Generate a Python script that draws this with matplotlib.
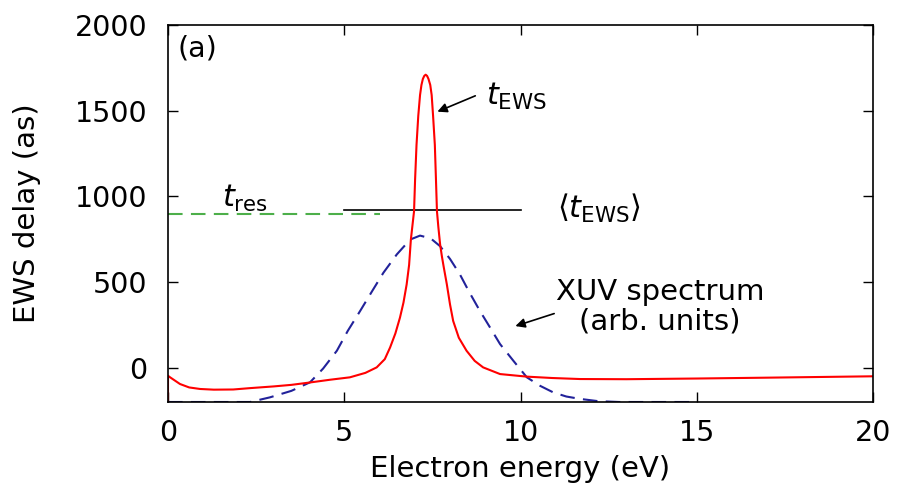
import matplotlib
matplotlib.use("Agg")
import matplotlib.pyplot as plt

plt.rcParams['font.family'] = ['DejaVu Sans']
plt.rcParams['mathtext.fontset'] = 'dejavusans'

# EWS delay t_EWS (red)
ews_x = [0.0, 0.0, 0.06, 0.34, 0.6, 0.91, 1.3, 1.85, 2.33, 3.0, 3.5, 4.03, 4.6, 5.16, 5.6,
         5.92, 6.15, 6.30, 6.45, 6.58, 6.68, 6.77, 6.84, 6.89, 6.94, 6.98, 7.01, 7.05, 7.1,
         7.15, 7.19, 7.23, 7.27, 7.31, 7.35, 7.39, 7.44, 7.48, 7.52, 7.57, 7.6, 7.63, 7.67,
         7.72, 7.77, 7.82, 7.91, 8.0, 8.09, 8.25, 8.47, 8.7, 8.94, 9.42, 10.18, 10.9,
         11.69, 13.0, 15.0, 17.0, 20.0]
ews_y = [-250, -47, -56, -95, -115, -124, -128, -127, -119, -109, -100, -86, -70, -56, -30,
         2, 50, 118, 200, 292, 380, 486, 600, 748, 840, 913, 1100, 1300, 1470,
         1591, 1650, 1685, 1703, 1710, 1703, 1685, 1650, 1591, 1470, 1300, 1110, 913, 820,
         719, 650, 590, 487, 370, 273, 175, 99, 40, 2, -37, -52, -60,
         -66, -67, -63, -58, -50]

# XUV spectrum (blue dashed), arbitrary units
xuv_x = [0.0, 1.0, 2.0, 2.33, 2.89, 3.5, 4.03, 4.4, 4.79, 5.1, 5.45, 5.8, 6.11, 6.49, 6.87,
         7.15, 7.45, 7.72, 8.0, 8.28, 8.55, 8.85, 9.15, 9.42, 9.8, 10.18, 10.55, 10.93,
         11.3, 11.69, 12.2, 12.8, 15.0]
xuv_y = [-200, -200, -200, -200, -173, -135, -85, -5, 99, 215, 331, 450, 554, 661, 748,
         771, 755, 709, 635, 545, 440, 331, 230, 138, 40, -56, -105, -144,
         -168, -182, -195, -200, -200]

# horizontal levels
tres_x = [0, 6]
tres_y = [900, 900]
mean_x = [5, 10]
mean_y = [920, 920]

xticks = [0, 5, 10, 15, 20]
yticks = [0, 500, 1000, 1500, 2000]

fig = plt.figure(figsize=(8.98, 4.91), dpi=100)
ax = fig.add_axes([168/898, 1-402/491, (873-168)/898, (402-25)/491])

ax.plot(tres_x, tres_y, color='#4daf4a', lw=1.5, dashes=(7, 4))
ax.plot(mean_x, mean_y, color='black', lw=1.2)
ax.plot(xuv_x, xuv_y, color='#22229a', lw=1.5, dashes=(7, 4))
ax.plot(ews_x, ews_y, color='#ff0000', lw=1.5)

ax.set_xlim(0, 20)
ax.set_ylim(-200, 2000)
ax.set_xticks(xticks)
ax.set_yticks(yticks)
ax.tick_params(direction='in', length=7, width=1, labelsize=20.5, top=True, right=True)
ax.tick_params(axis='y', pad=15)
ax.tick_params(axis='x', pad=12)
for s in ax.spines.values():
    s.set_linewidth(1.2)

ax.set_xlabel('Electron energy (eV)', fontsize=21, labelpad=6)
ax.set_ylabel('EWS delay (as)', fontsize=21, labelpad=24)

ax.text(0.26, 1860, '(a)', fontsize=20.5, ha='left', va='center')
ax.text(9.02, 1581, r'$t_{\mathrm{EWS}}$', fontsize=22, ha='left', va='center')
ax.annotate('', xy=(7.57, 1488), xytext=(8.79, 1593),
            arrowprops=dict(arrowstyle='-|>', color='black', lw=1.2, mutation_scale=14))
ax.text(11.04, 930, r'$\langle t_{\mathrm{EWS}}\rangle$', fontsize=22, ha='left', va='center')
ax.text(1.53, 988, r'$t_{\mathrm{res}}$', fontsize=22, ha='left', va='center')
ax.text(13.96, 355, 'XUV spectrum\n(arb. units)', fontsize=21, ha='center', va='center',
        multialignment='center', linespacing=1.1)
ax.annotate('', xy=(9.78, 238), xytext=(11.03, 321),
            arrowprops=dict(arrowstyle='-|>', color='black', lw=1.2, mutation_scale=14))

fig.savefig('out.png', dpi=100)
